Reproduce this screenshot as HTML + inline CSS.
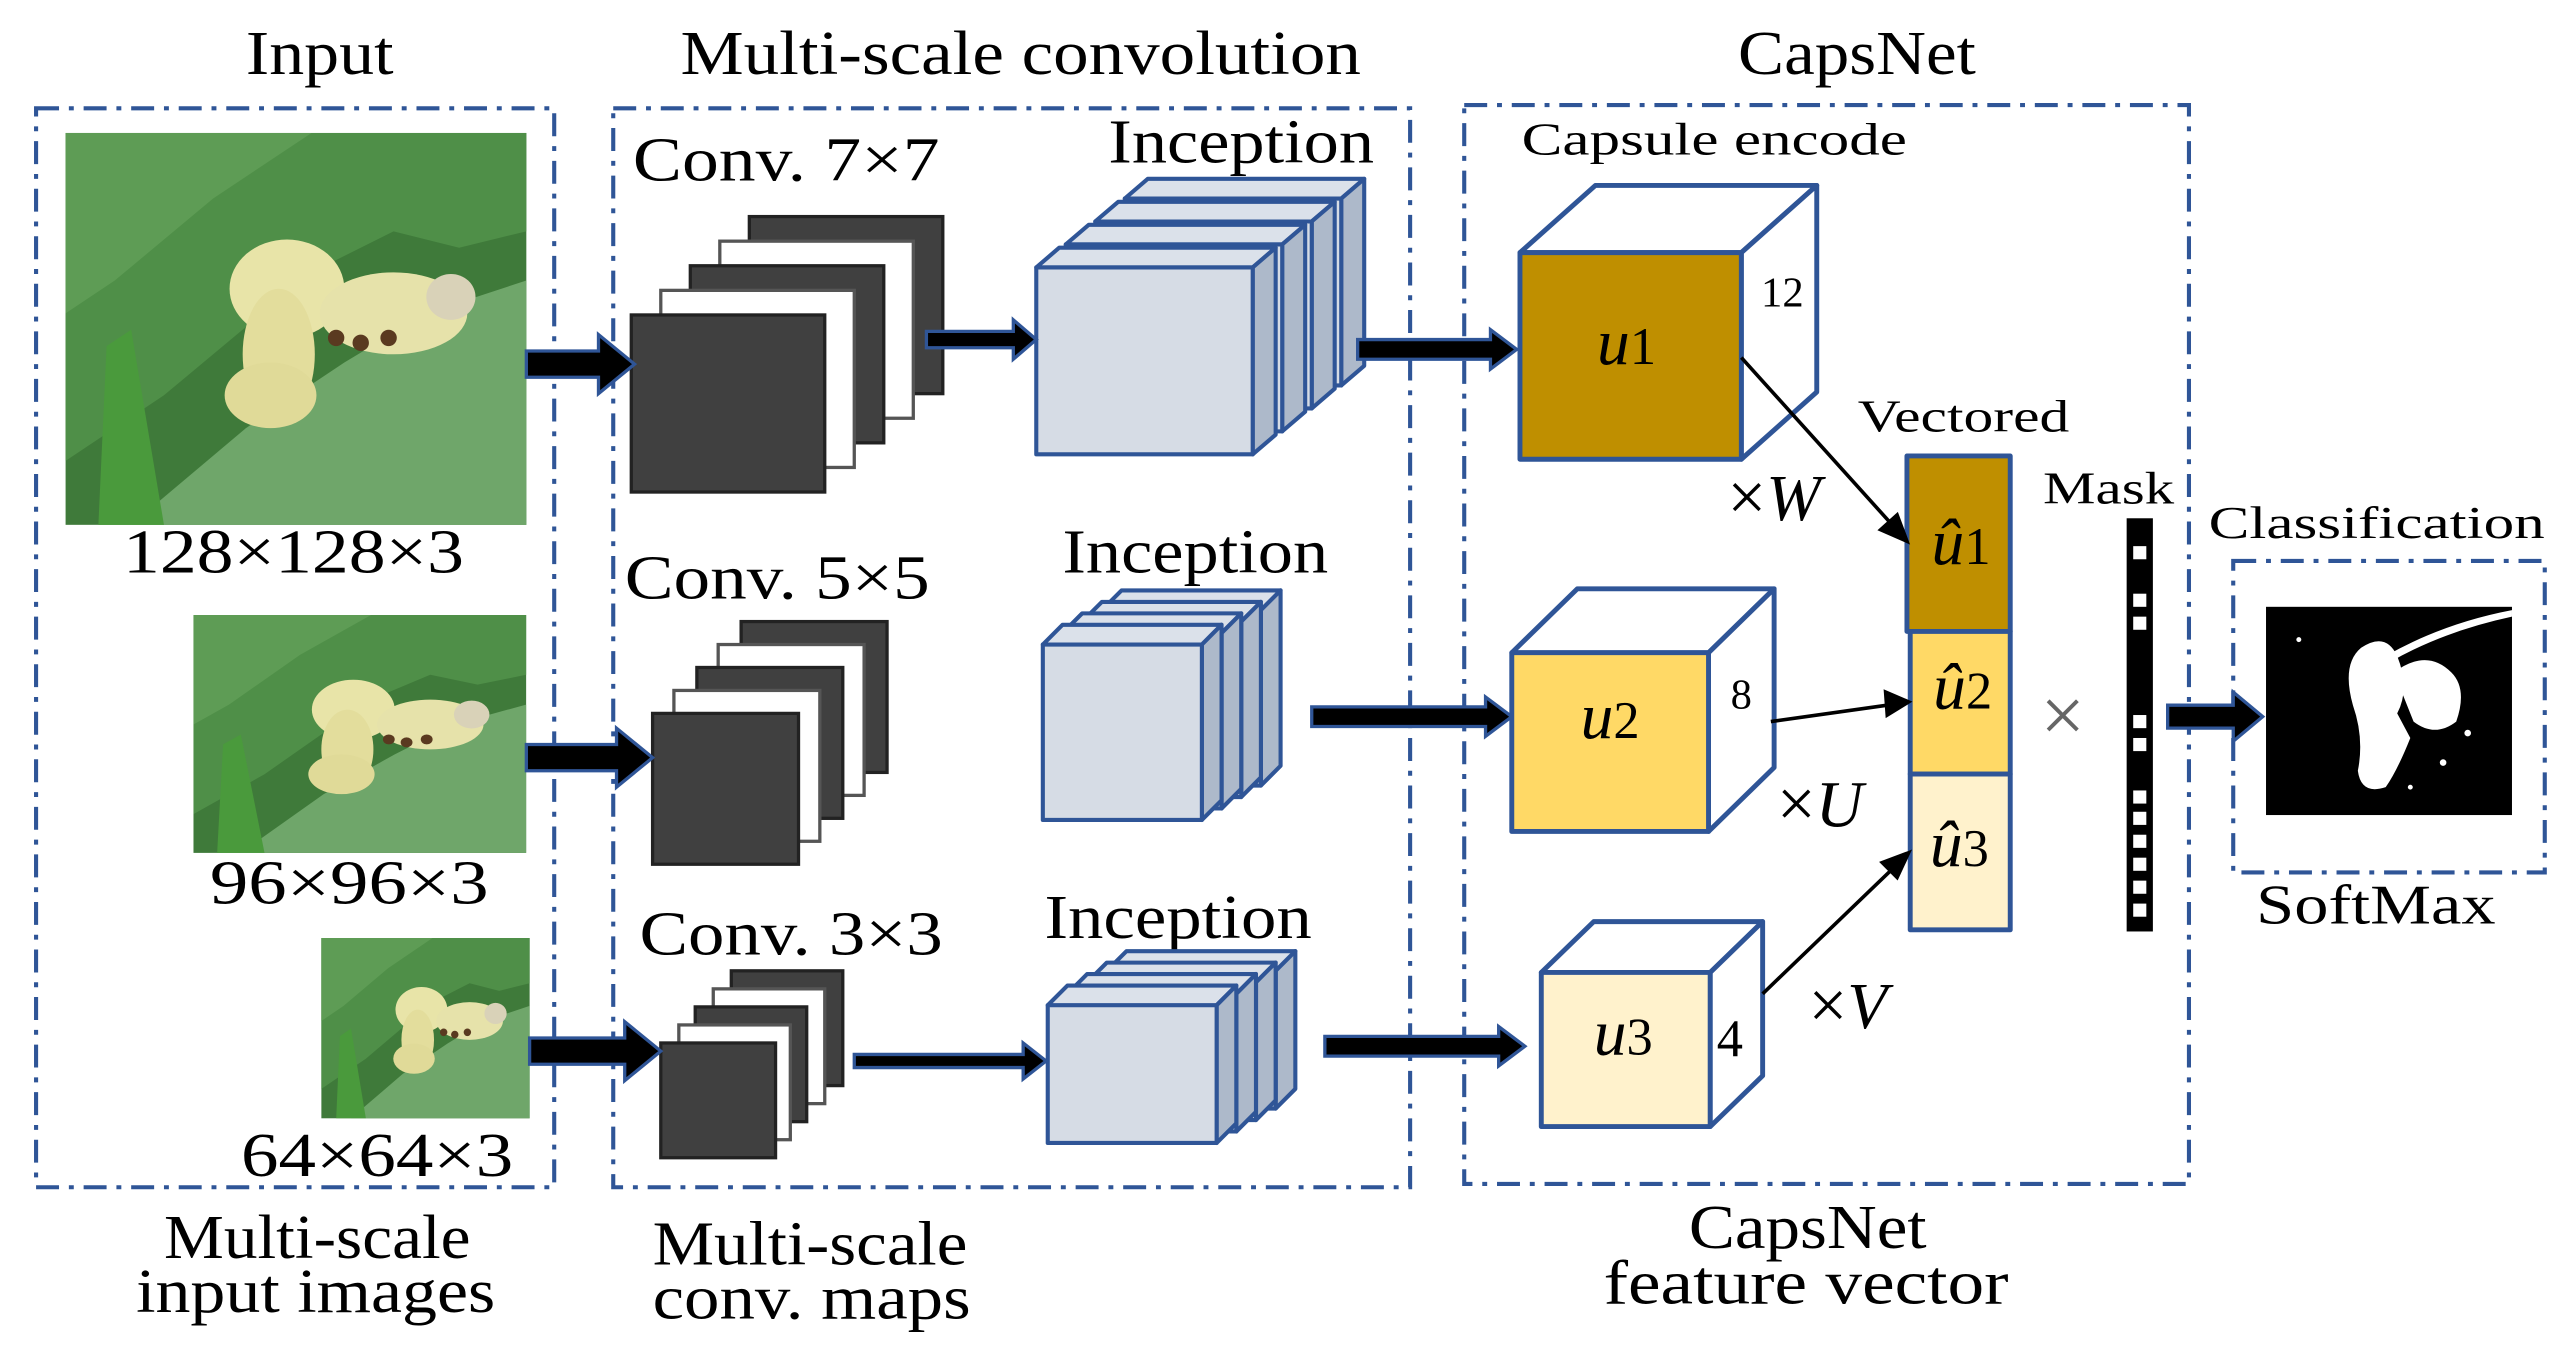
<!DOCTYPE html>
<html><head><meta charset="utf-8"><style>html,body{margin:0;padding:0;background:#fff}svg{display:block}</style></head>
<body>
<svg width="2571" height="1353" viewBox="0 0 1568 825" xmlns="http://www.w3.org/2000/svg" font-family="Liberation Serif, serif">
<defs>
<g id="cat">
<rect x="0" y="0" width="281" height="239" fill="#3f7a3a"/>
<polygon points="0,0 281,0 281,60 240,70 200,60 160,80 120,110 60,160 0,200" fill="#4f8f48"/>
<polygon points="0,0 150,0 90,40 30,90 0,110" fill="#5e9c55"/>
<polygon points="40,239 281,239 281,90 220,110 170,140 110,180" fill="#6fa66a"/>
<polygon points="20,239 60,239 40,120 25,130" fill="#4a9a3c"/>
<ellipse cx="135" cy="95" rx="35" ry="30" fill="#e8e4a8"/>
<ellipse cx="130" cy="135" rx="22" ry="40" fill="#e3dd9c"/>
<ellipse cx="125" cy="160" rx="28" ry="20" fill="#e0da98"/>
<ellipse cx="200" cy="110" rx="45" ry="25" fill="#e6e2aa"/>
<ellipse cx="235" cy="100" rx="15" ry="14" fill="#d9d2b8"/>
<circle cx="165" cy="125" r="5" fill="#5a3a20"/><circle cx="180" cy="128" r="5" fill="#5a3a20"/><circle cx="197" cy="125" r="5" fill="#5a3a20"/>
</g>
</defs>
<g fill="#000" font-size="38" lengthAdjust="spacingAndGlyphs">
<text x="150" y="45" textLength="90" lengthAdjust="spacingAndGlyphs">Input</text>
<text x="415" y="45" textLength="415" lengthAdjust="spacingAndGlyphs">Multi-scale  convolution</text>
<text x="1060" y="45" textLength="145" lengthAdjust="spacingAndGlyphs">CapsNet</text>
<text x="75" y="349" textLength="208" lengthAdjust="spacingAndGlyphs">128×128×3</text>
<text x="128" y="551" textLength="170" lengthAdjust="spacingAndGlyphs">96×96×3</text>
<text x="147" y="717" textLength="166" lengthAdjust="spacingAndGlyphs">64×64×3</text>
<text x="100" y="767" textLength="187" lengthAdjust="spacingAndGlyphs">Multi-scale</text><text x="83" y="800" textLength="219" lengthAdjust="spacingAndGlyphs">input images</text>
<text x="398" y="771" textLength="192" lengthAdjust="spacingAndGlyphs">Multi-scale</text><text x="398" y="804" textLength="194" lengthAdjust="spacingAndGlyphs">conv. maps</text>
<text x="1030" y="761" textLength="145" lengthAdjust="spacingAndGlyphs">CapsNet</text><text x="978" y="795" textLength="247" lengthAdjust="spacingAndGlyphs">feature  vector</text>
<text x="386" y="110" textLength="187" lengthAdjust="spacingAndGlyphs">Conv. 7×7</text>
<text x="381" y="365" textLength="186" lengthAdjust="spacingAndGlyphs">Conv. 5×5</text>
<text x="390" y="582" textLength="185" lengthAdjust="spacingAndGlyphs">Conv. 3×3</text>
<text x="676" y="99" textLength="162" lengthAdjust="spacingAndGlyphs">Inception</text>
<text x="648" y="349" textLength="162" lengthAdjust="spacingAndGlyphs">Inception</text>
<text x="637" y="572" textLength="163" lengthAdjust="spacingAndGlyphs">Inception</text>
</g>
<g fill="#000" font-size="28">
<text x="928" y="94" textLength="235" lengthAdjust="spacingAndGlyphs">Capsule encode</text>
<text x="1133" y="263" textLength="129" lengthAdjust="spacingAndGlyphs">Vectored</text>
<text x="1246" y="307" textLength="80" lengthAdjust="spacingAndGlyphs">Mask</text>
<text x="1347" y="328" textLength="205" lengthAdjust="spacingAndGlyphs">Classification</text>
<text x="1376" y="563" font-size="34" textLength="146" lengthAdjust="spacingAndGlyphs">SoftMax</text>
</g>
<g fill="none" stroke="#2f5597" stroke-width="2.5" stroke-dasharray="14 6 3 6">
<rect x="22" y="66" width="316" height="658"/>
<rect x="374" y="66" width="486" height="658"/>
<rect x="893" y="64" width="442" height="658"/>
<rect x="1362" y="342" width="190" height="190"/>
</g>
<use href="#cat" transform="translate(40,81)"/>
<use href="#cat" transform="translate(118,375) scale(0.722,0.607)"/>
<use href="#cat" transform="translate(196,572) scale(0.452,0.46)"/>
<g stroke-width="2">
<rect x="457" y="132" width="118" height="108" fill="#404040" stroke="#222"/>
<rect x="439" y="147" width="118" height="108" fill="#fff" stroke="#555"/>
<rect x="421" y="162" width="118" height="108" fill="#404040" stroke="#222"/>
<rect x="403" y="177" width="118" height="108" fill="#fff" stroke="#555"/>
<rect x="385" y="192" width="118" height="108" fill="#404040" stroke="#222"/>
<rect x="452" y="379" width="89" height="92" fill="#404040" stroke="#222"/>
<rect x="438" y="393" width="89" height="92" fill="#fff" stroke="#555"/>
<rect x="425" y="407" width="89" height="92" fill="#404040" stroke="#222"/>
<rect x="411" y="421" width="89" height="92" fill="#fff" stroke="#555"/>
<rect x="398" y="435" width="89" height="92" fill="#404040" stroke="#222"/>
<rect x="446" y="592" width="68" height="70" fill="#404040" stroke="#222"/>
<rect x="435" y="603" width="68" height="70" fill="#fff" stroke="#555"/>
<rect x="424" y="614" width="68" height="70" fill="#404040" stroke="#222"/>
<rect x="414" y="625" width="68" height="70" fill="#fff" stroke="#555"/>
<rect x="403" y="636" width="70" height="70" fill="#404040" stroke="#222"/>
</g>
<g stroke="#2f5597" stroke-width="2.5" stroke-linejoin="round">
<g><polygon points="686,121 700,109 832,109 818,121" fill="#dbe1ea"/><polygon points="818,121 832,109 832,223 818,235" fill="#adb9ca"/><rect x="686" y="121" width="132" height="114" fill="#d6dce5"/></g>
<g><polygon points="668,135 682,123 814,123 800,135" fill="#dbe1ea"/><polygon points="800,135 814,123 814,237 800,249" fill="#adb9ca"/><rect x="668" y="135" width="132" height="114" fill="#d6dce5"/></g>
<g><polygon points="650,149 664,137 796,137 782,149" fill="#dbe1ea"/><polygon points="782,149 796,137 796,251 782,263" fill="#adb9ca"/><rect x="650" y="149" width="132" height="114" fill="#d6dce5"/></g>
<g><polygon points="632,163 646,151 778,151 764,163" fill="#dbe1ea"/><polygon points="764,163 778,151 778,265 764,277" fill="#adb9ca"/><rect x="632" y="163" width="132" height="114" fill="#d6dce5"/></g>
<g><polygon points="672,372 684,360 781,360 769,372" fill="#dbe1ea"/><polygon points="769,372 781,360 781,467 769,479" fill="#adb9ca"/><rect x="672" y="372" width="97" height="107" fill="#d6dce5"/></g>
<g><polygon points="660,379 672,367 769,367 757,379" fill="#dbe1ea"/><polygon points="757,379 769,367 769,474 757,486" fill="#adb9ca"/><rect x="660" y="379" width="97" height="107" fill="#d6dce5"/></g>
<g><polygon points="648,386 660,374 757,374 745,386" fill="#dbe1ea"/><polygon points="745,386 757,374 757,481 745,493" fill="#adb9ca"/><rect x="648" y="386" width="97" height="107" fill="#d6dce5"/></g>
<g><polygon points="636,393 648,381 745,381 733,393" fill="#dbe1ea"/><polygon points="733,393 745,381 745,488 733,500" fill="#adb9ca"/><rect x="636" y="393" width="97" height="107" fill="#d6dce5"/></g>
<g><polygon points="675,592 687,580 790,580 778,592" fill="#dbe1ea"/><polygon points="778,592 790,580 790,664 778,676" fill="#adb9ca"/><rect x="675" y="592" width="103" height="84" fill="#d6dce5"/></g>
<g><polygon points="663,599 675,587 778,587 766,599" fill="#dbe1ea"/><polygon points="766,599 778,587 778,671 766,683" fill="#adb9ca"/><rect x="663" y="599" width="103" height="84" fill="#d6dce5"/></g>
<g><polygon points="651,606 663,594 766,594 754,606" fill="#dbe1ea"/><polygon points="754,606 766,594 766,678 754,690" fill="#adb9ca"/><rect x="651" y="606" width="103" height="84" fill="#d6dce5"/></g>
<g><polygon points="639,613 651,601 754,601 742,613" fill="#dbe1ea"/><polygon points="742,613 754,601 754,685 742,697" fill="#adb9ca"/><rect x="639" y="613" width="103" height="84" fill="#d6dce5"/></g>
</g>
<g fill="#000" stroke="#2f5597" stroke-width="2" stroke-linejoin="miter">
<polygon points="321,214 365,214 365,204 387,222 365,240 365,230 321,230"/>
<polygon points="565,202 618,202 618,195 632,207 618,219 618,212 565,212"/>
<polygon points="828,207 909,207 909,201 925,213 909,225 909,219 828,219"/>
<polygon points="321,454 376,454 376,444 398,462 376,480 376,470 321,470"/>
<polygon points="800,431 906,431 906,425 922,437 906,449 906,443 800,443"/>
<polygon points="323,633 381,633 381,623 403,641 381,659 381,649 323,649"/>
<polygon points="521,643 624,643 624,636 638,647 624,658 624,651 521,651"/>
<polygon points="808,632 914,632 914,626 930,638 914,650 914,644 808,644"/>
<polygon points="1322,430 1362,430 1362,422 1380,437 1362,452 1362,444 1322,444"/>
</g>
<g stroke="#2f5597" stroke-width="3" stroke-linejoin="round">
<polygon points="927,154 973,113 1108,113 1062,154" fill="#fff"/>
<polygon points="1062,154 1108,113 1108,239 1062,280" fill="#fff"/>
<rect x="927" y="154" width="135" height="126" fill="#bf8f00"/>
<polygon points="922,398 962,359 1082,359 1042,398" fill="#fff"/>
<polygon points="1042,398 1082,359 1082,468 1042,507" fill="#fff"/>
<rect x="922" y="398" width="120" height="109" fill="#ffd966"/>
<polygon points="940,593 972,562 1075,562 1043,593" fill="#fff"/>
<polygon points="1043,593 1075,562 1075,656 1043,687" fill="#fff"/>
<rect x="940" y="593" width="103" height="94" fill="#fff2cc"/>
<rect x="1163" y="278" width="63" height="107" fill="#bf8f00"/>
<rect x="1165" y="385" width="61" height="87" fill="#ffd966"/>
<rect x="1165" y="472" width="61" height="95" fill="#fff2cc"/>
</g>
<g font-size="40" fill="#000" text-anchor="middle">
<text x="992" y="222"><tspan font-style="italic">u</tspan><tspan font-size="32">1</tspan></text>
<text x="982" y="450"><tspan font-style="italic">u</tspan><tspan font-size="32">2</tspan></text>
<text x="990" y="643"><tspan font-style="italic">u</tspan><tspan font-size="32">3</tspan></text>
<text x="1196" y="344"><tspan font-style="italic">û</tspan><tspan font-size="32">1</tspan></text>
<text x="1197" y="432"><tspan font-style="italic">û</tspan><tspan font-size="32">2</tspan></text>
<text x="1195" y="528"><tspan font-style="italic">û</tspan><tspan font-size="32">3</tspan></text>
<text x="1082" y="317" font-style="italic"><tspan font-style="normal" font-size="42">×</tspan>W</text>
<text x="1110" y="504" font-style="italic"><tspan font-style="normal" font-size="42">×</tspan>U</text>
<text x="1127" y="627" font-style="italic"><tspan font-style="normal" font-size="42">×</tspan>V</text>
<text x="1258" y="452" fill="#666" font-size="48">×</text>
</g>
<g font-size="26" fill="#000" text-anchor="middle">
<text x="1087" y="187">12</text><text x="1062" y="432">8</text><text x="1055" y="644" font-size="32">4</text>
</g>
<g stroke="#000" stroke-width="2.2" fill="#000">
<line x1="1062" y1="218" x2="1154" y2="320"/><polygon points="1163,330 1147,323 1157,314"/>
<line x1="1080" y1="440" x2="1151" y2="430"/><polygon points="1164,428 1150,422 1151,436"/>
<line x1="1075" y1="606" x2="1154" y2="530"/><polygon points="1164,520 1148,526 1157,535"/>
</g>
<rect x="1297" y="316" width="16" height="252" fill="#000"/>
<g fill="#fff">
<rect x="1301" y="333" width="8" height="8"/><rect x="1301" y="362" width="8" height="8"/><rect x="1301" y="376" width="8" height="8"/>
<rect x="1301" y="436" width="8" height="8"/><rect x="1301" y="450" width="8" height="8"/><rect x="1301" y="482" width="8" height="8"/>
<rect x="1301" y="495" width="8" height="8"/><rect x="1301" y="509" width="8" height="8"/><rect x="1301" y="523" width="8" height="8"/>
<rect x="1301" y="537" width="8" height="8"/><rect x="1301" y="551" width="8" height="8"/>
</g>
<rect x="1382" y="370" width="150" height="127" fill="#000"/>
<g fill="#fff">
<path d="M1440,395 Q1455,385 1462,400 Q1470,420 1462,435 L1470,450 Q1462,470 1455,480 Q1440,485 1438,470 Q1442,450 1435,430 Q1428,405 1440,395Z"/>
<path d="M1460,410 Q1480,395 1495,410 Q1505,420 1498,440 Q1485,450 1472,440 Z"/>
<path d="M1455,400 Q1490,380 1532,372 L1532,376 Q1490,385 1457,404Z"/>
<circle cx="1402" cy="390" r="1.5"/><circle cx="1505" cy="447" r="2"/><circle cx="1490" cy="465" r="2"/><circle cx="1470" cy="480" r="1.5"/>
</g>
</svg>
</body></html>
